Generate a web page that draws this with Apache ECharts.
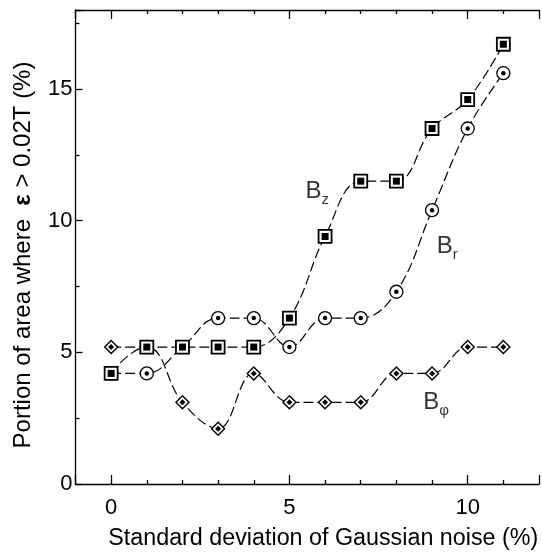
<!DOCTYPE html>
<html>
<head>
<meta charset="utf-8">
<script src="https://cdn.jsdelivr.net/npm/echarts@6/dist/echarts.min.js"></script>
<style>html,body{margin:0;padding:0;background:#fff}#c{width:542px;height:555px}</style>
</head>
<body>
<div id="c"></div>
<script>
// ---- data ----
const noise = [0, 1, 2, 3, 4, 5, 6, 7, 8, 9, 10, 11];
const Bz   = [4.2, 5.2, 5.2, 5.2, 5.2, 6.3, 9.4, 11.5, 11.5, 13.5, 14.6, 16.7];
const Br   = [4.2, 4.2, 5.2, 6.3, 6.3, 5.2, 6.3, 6.3, 7.3, 10.4, 13.5, 15.6];
const Bphi = [5.2, 5.2, 3.1, 2.1, 4.2, 3.1, 3.1, 3.1, 4.2, 4.2, 5.2, 5.2];
const xTickLabels = [0, 5, 10];
const yTickLabels = [0, 5, 10, 15];
const seriesLabels = [
  { text: '{b|B}{s|z}', x: 5.45, y: 11.1 },
  { text: '{b|B}{s|r}', x: 9.13, y: 9.04 },
  { text: '{b|B}{s|φ}', x: 8.75, y: 3.1 }
];

const FONT = 'Liberation Sans';
const pts = arr => noise.map((x, i) => [x, arr[i]]);

const chart = echarts.init(document.getElementById('c'));

function lineS(arr) {
  return {
    type: 'line', data: pts(arr), smooth: 0.4, showSymbol: false, symbol: 'none',
    lineStyle: { color: '#000', width: 1.2, type: [10, 4] }, z: 2, silent: true
  };
}
function markS(arr, symbol, size, fill, bw, z) {
  return {
    type: 'scatter', data: pts(arr), symbol: symbol, symbolSize: size,
    itemStyle: { color: fill, borderColor: '#000', borderWidth: bw, opacity: 1 }, z: z, silent: true
  };
}

const xAxisBase = {
  type: 'value', min: -1, max: 12, splitNumber: 3,
  axisLine: { onZero: false, lineStyle: { color: '#000', width: 1.3 } },
  axisTick: { inside: true, length: 9, lineStyle: { color: '#000', width: 1.3 } },
  minorTick: { show: true, splitNumber: 5, length: 4, lineStyle: { color: '#000', width: 1.3 } },
  splitLine: { show: false }, minorSplitLine: { show: false }
};

chart.setOption({
  animation: false,
  backgroundColor: '#fff',
  grid: { left: 75.5, top: 10, width: 477, height: 474, containLabel: false },
  xAxis: [
    Object.assign({}, xAxisBase, {
      position: 'bottom',
      axisLabel: {
        fontSize: 22, color: '#000', fontFamily: FONT, margin: 13,
        formatter: v => xTickLabels.indexOf(v) >= 0 ? String(v) : ''
      },
      name: 'Standard deviation of Gaussian noise (%)', nameLocation: 'middle', nameGap: 43,
      nameTextStyle: { fontSize: 23.3, color: '#000', fontFamily: FONT, padding: [0, 0, 0, 32] }
    }),
    Object.assign({}, xAxisBase, { position: 'top', axisLabel: { show: false } })
  ],
  yAxis: [{
    type: 'value', min: 0, max: 18, splitNumber: 4, position: 'left',
    axisLine: { onZero: false, lineStyle: { color: '#000', width: 1.3 } },
    axisTick: { inside: true, length: 7, lineStyle: { color: '#000', width: 1.3 } },
    minorTick: { show: true, splitNumber: 2, length: 4, lineStyle: { color: '#000', width: 1.3 } },
    splitLine: { show: false },
    axisLabel: {
      fontSize: 22, color: '#000', fontFamily: FONT, margin: 3,
      formatter: v => yTickLabels.indexOf(v) >= 0 ? String(v) : ''
    },
    name: '{n|Portion of area where  }{e|ε}{n| > 0.02T (%)}',
    nameLocation: 'middle', nameGap: 40,
    nameTextStyle: {
      fontFamily: FONT, color: '#000', padding: [0, 16, 0, 0],
      rich: {
        n: { fontSize: 24, fontFamily: FONT, color: '#000' },
        e: { fontSize: 24, fontFamily: FONT, color: '#000', fontWeight: 'bold' }
      }
    }
  }],
  series: [
    lineS(Br), lineS(Bphi), lineS(Bz),
    markS(Bphi, 'diamond', 13, '#fff', 1.4, 3),
    markS(Bphi, 'diamond', 6, '#000', 0, 4),
    markS(Br, 'circle', 13, '#fff', 1.3, 3),
    markS(Br, 'circle', 4.5, '#000', 0, 4),
    markS(Bz, 'rect', 13, '#fff', 1.8, 5),
    markS(Bz, 'rect', 7, '#000', 0, 6),
    {
      type: 'scatter', symbolSize: 0, silent: true, z: 7,
      data: seriesLabels.map(l => ({ value: [l.x, l.y], label: { formatter: l.text } })),
      label: {
        show: true, position: 'inside', align: 'left', verticalAlign: 'middle', color: '#000',
        rich: {
          b: { fontSize: 24, fontFamily: FONT, color: '#000', lineHeight: 24, verticalAlign: 'bottom' },
          s: { fontSize: 15, fontFamily: FONT, color: '#000', lineHeight: 15, verticalAlign: 'bottom', padding: [0, 0, -4, 0] }
        }
      }
    }
  ]
});
</script>
</body>
</html>
